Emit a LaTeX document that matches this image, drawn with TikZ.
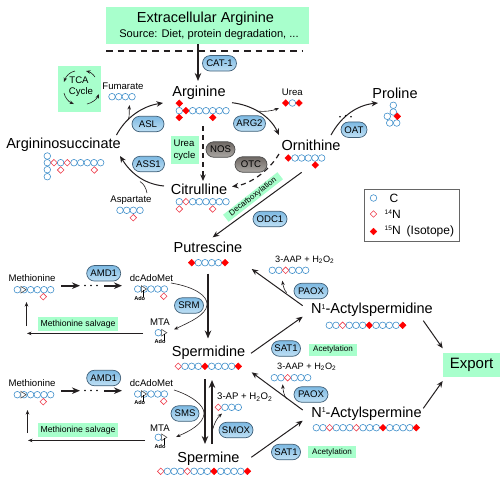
\documentclass[tikz,border=0pt]{standalone}
\usepackage{fontspec}
\setmainfont{Liberation Sans}
\usetikzlibrary{arrows.meta,shapes.misc}
\definecolor{ink}{HTML}{231F20}
\definecolor{mint}{HTML}{A8FFCC}
\definecolor{atomblue}{HTML}{3F8FCB}
\definecolor{atomred}{HTML}{EE3B4A}
\definecolor{pilltop}{HTML}{7DB9E2}
\definecolor{pillbot}{HTML}{BFE0F5}
\definecolor{pilledge}{HTML}{3F5F78}
\definecolor{graytop}{HTML}{6E6864}
\definecolor{graybot}{HTML}{ABA7A3}
\newcommand{\supa}[1]{\raisebox{4.6pt}{\fontsize{7}{8}\selectfont #1}}
\newcommand{\supb}[1]{\raisebox{4.4pt}{\fontsize{6.6}{7}\selectfont #1}}
\tikzset{
 every node/.style={inner sep=0pt,text=black},
 big/.style={font=\fontsize{14.5}{16}\selectfont},
 mid/.style={font=\fontsize{9.6}{11}\selectfont},
 small/.style={font=\fontsize{8.1}{10}\selectfont},
 salvage/.style={font=\fontsize{8.7}{10}\selectfont},
 aap/.style={font=\fontsize{9.2}{11}\selectfont},
 tiny/.style={font=\bfseries\fontsize{5.6}{6}\selectfont},
 legendtext/.style={font=\fontsize{12}{13}\selectfont},
 greenbox/.style={fill=mint,draw=none,align=center},
 pill/.style={rounded rectangle,draw=pilledge,line width=.7pt,top color=pilltop,bottom color=pillbot,font=\fontsize{9.6}{11}\selectfont,minimum height=15.5pt},
 graypill/.style={rounded rectangle,draw=black!70,line width=.7pt,top color=graytop,bottom color=graybot,font=\fontsize{9.6}{11}\selectfont,minimum height=15.5pt},
 flow/.style={draw=ink,line width=1pt,-{Stealth[length=6.5pt,width=5.5pt]}},
 thick flow/.style={draw=ink,line width=1.6pt,-{Stealth[length=8pt,width=6.5pt]}},
 thin flow/.style={draw=ink,line width=.6pt,-{Stealth[length=4.5pt,width=3.5pt]}},
 dash flow/.style={draw=ink,line width=1.2pt,dash pattern=on 5pt off 4pt,-{Stealth[length=6.5pt,width=5.5pt]}},
 catom/.style={draw=atomblue,line width=.6pt,fill=white},
 natom/.style={draw=atomred,line width=.6pt,fill=white},
 matom/.style={draw=red,line width=.4pt,fill=red},
}
\newcommand{\atomc}[2]{\draw[catom] (#1,#2) circle (3.3pt);}
\newcommand{\atomn}[2]{\draw[natom,shift={(#1,#2)}] (-3.3,0)--(0,-3.3)--(3.3,0)--(0,3.3)--cycle;}
\newcommand{\atomm}[2]{\draw[matom,shift={(#1,#2)}] (-3.4,0)--(0,-3.4)--(3.4,0)--(0,3.4)--cycle;}
\newcommand{\atomt}[2]{\draw[draw=black!70,line width=.6pt,fill=white,shift={(#1,#2)}] (-2.4,-3.3)--(2.8,0)--(-2.4,3.3)--cycle;}
\newcommand{\atomline}[3]{\foreach \t [count=\i from 0] in {#3} {\csname atom\t\endcsname{#1+\i*6.67}{#2}}}
\newcommand{\adolink}[2]{\draw[line width=.6pt] (#1,#2+1)--(#1,#2+8);}
\begin{document}
\begin{tikzpicture}[x=1pt,y=-1pt]
\useasboundingbox (0,0) rectangle (503,480);
% green boxes
\node[greenbox,minimum width=203pt,minimum height=37pt] (extra) at (207.5,25.5) {};
\node[big] (extraA) at (205.5,19) {Extracellular Arginine};
\node[font=\fontsize{11.1}{13}\selectfont] (extraB) at (209,34.5) {Source: Diet, protein degradation, ...};
\node[greenbox,minimum width=43pt,minimum height=46pt] (tcabox) at (79.5,89) {};
\node[mid] (tca) at (79,80.5) {TCA};
\node[mid] (cyc) at (81,92.5) {Cycle};
\node[greenbox,minimum width=28pt,minimum height=28pt] (ureabox) at (185,150) {};
\node[mid] (ureacyc) at (184,143.5) {Urea};
\node[mid] (ureacyc2) at (184.5,156) {cycle};
\node[greenbox,minimum width=80pt,minimum height=13.5pt,salvage] (salv1) at (78,324) {Methionine salvage};
\node[greenbox,minimum width=80pt,minimum height=14pt,salvage] (salv2) at (78,430) {Methionine salvage};
\node[greenbox,minimum width=48pt,minimum height=12pt,small] (acet1) at (333,349.7) {Acetylation};
\node[greenbox,minimum width=48pt,minimum height=12pt,small] (acet2) at (332,452.2) {Acetylation};
\node[greenbox,minimum width=57pt,minimum height=23.7pt,font=\fontsize{15}{17}\selectfont] (export) at (471.5,364.8) {Export};
\node[greenbox,rotate=38,minimum width=69pt,minimum height=9pt,font=\fontsize{8}{9}\selectfont] (decarb) at (253,197) {Decarboxylation};
% metabolites
\node[big] (arg) at (199,93) {Arginine};
\node[big] (asuc) at (63.5,145) {Argininosuccinate};
\node[big] (cit) at (199,189) {Citrulline};
\node[big] (orn) at (311,145) {Ornithine};
\node[big] (pro) at (395,93) {Proline};
\node[big] (put) at (208,247) {Putrescine};
\node[big] (spd) at (208.5,352.5) {Spermidine};
\node[big] (spm) at (208.5,458.5) {Spermine};
\node[big] (nspd) at (372,310) {N\supa{1}-Actylspermidine};
\node[big] (nspm) at (366.5,413.5) {N\supa{1}-Actylspermine};
\node[mid] (fum) at (123,86) {Fumarate};
\node[mid] (asp) at (131,200) {Aspartate};
\node[mid] (urea) at (292.3,92.7) {Urea};
\node[mid] (met1) at (32,278) {Methionine};
\node[mid] (dc1) at (151.5,278) {dcAdoMet};
\node[mid] (mta1) at (160,322.5) {MTA};
\node[mid] (met2) at (32,383) {Methionine};
\node[mid] (dc2) at (151.5,383) {dcAdoMet};
\node[mid] (mta2) at (160,428) {MTA};
\node[tiny] (ado1) at (139.7,298) {Ado};
\node[tiny] (ado2) at (160,341) {Ado};
\node[tiny] (ado3) at (139.7,402) {Ado};
\node[tiny] (ado4) at (160,446) {Ado};
\node[mid,anchor=west] (ap) at (217,397) {3-AP + H\textsubscript{2}O\textsubscript{2}};
\node[aap,anchor=west] (aap1) at (275,260) {3-AAP + H\textsubscript{2}O\textsubscript{2}};
\node[aap,anchor=west] (aap2) at (277,366.7) {3-AAP + H\textsubscript{2}O\textsubscript{2}};
% coordinates for connectors
\coordinate (cutA) at (106,51); \coordinate (cutB) at (302,51);
\coordinate (e1) at (198,44); \coordinate (e2) at (198,81);
\coordinate (a1) at (116.5,135); \coordinate (a2) at (163,103);
\coordinate (f1) at (128,120); \coordinate (f2) at (129.5,105);
\coordinate (b1) at (164,186); \coordinate (b2) at (120,156);
\coordinate (as1) at (147,193); \coordinate (as2) at (140,181.5);
\coordinate (c1) at (232,102.7); \coordinate (c2) at (279,135);
\coordinate (u1) at (257,111); \coordinate (u2) at (279,108);
\coordinate (d1) at (331,135); \coordinate (d2) at (378,103);
\coordinate (g1) at (203,126); \coordinate (g2) at (203,181);
\coordinate (h1) at (279,154); \coordinate (h2) at (232,186.5);
\coordinate (i1) at (301.7,172.3); \coordinate (i2) at (212.7,237.3);
\coordinate (j1) at (208,273.5); \coordinate (j2) at (208,338.5);
\coordinate (k1) at (171,283); \coordinate (k2) at (174,329.5);
\coordinate (l1) at (174,390); \coordinate (l2) at (176,437);
\coordinate (m1) at (61,285.7); \coordinate (m2) at (80,285.7);
\coordinate (m3) at (104,285.7); \coordinate (m4) at (122,285.7);
\coordinate (n1) at (61,390.7); \coordinate (n2) at (80,390.7);
\coordinate (n3) at (104,390.7); \coordinate (n4) at (122,390.7);
\coordinate (o1) at (143,333.4); \coordinate (o2) at (27,333.4);
\coordinate (o3) at (26.5,326); \coordinate (o4) at (26.5,302);
\coordinate (p1) at (145,440.4); \coordinate (p2) at (28,440.4);
\coordinate (p3) at (27.5,433); \coordinate (p4) at (27.5,410);
\coordinate (q1) at (205,379); \coordinate (q2) at (205,444);
\coordinate (r1) at (212,444); \coordinate (r2) at (212,380);
\coordinate (s1) at (212.5,430); \coordinate (s2) at (222,413.5);
\coordinate (t1) at (251,353.3); \coordinate (t2) at (302.7,316.7);
\coordinate (v1) at (302.7,305.7); \coordinate (v2) at (251.7,269);
\coordinate (w1) at (286.7,292.7); \coordinate (w2) at (282.3,280.7);
\coordinate (x1) at (251.3,457.3); \coordinate (x2) at (302.7,420.7);
\coordinate (y1) at (302.7,410); \coordinate (y2) at (251.7,372.3);
\coordinate (z1) at (286.7,399); \coordinate (z2) at (282.7,384.3);
\coordinate (ex1) at (423.3,320.7); \coordinate (ex2) at (442.7,348.3);
\coordinate (ex3) at (423.3,408.3); \coordinate (ex4) at (442.7,381);
% connectors
\draw[ink,line width=1.2pt,dash pattern=on 6.5pt off 5pt] (cutA)--(cutB);
\draw[thick flow] (e1)--(e2);
\draw[flow] (a1) .. controls (126,117) and (143,106) .. (a2);
\draw[thin flow] (f1) .. controls (130,116) and (129,111) .. (f2);
\draw[flow] (b1) .. controls (143,184) and (130,172) .. (b2);
\draw[ink,line width=.6pt] (as1) .. controls (146,188) and (144,184) .. (as2);
\draw[flow] (c1) .. controls (252,105) and (270,116) .. (c2);
\draw[thin flow] (u1) .. controls (264,112) and (272,111) .. (u2);
\draw[flow] (d1) .. controls (342,115) and (358,105) .. (d2);
\draw[dash flow] (g1)--(g2);
\draw[dash flow] (h1) .. controls (268,172) and (250,184) .. (h2);
\draw[flow] (i1)--(i2);
\draw[thick flow] (j1)--(j2);
\draw[thin flow] (k1) .. controls (195,287) and (208,296) .. (207,305) .. controls (206,315) and (190,322) .. (k2);
\draw[thin flow] (l1) .. controls (190,395) and (205,405) .. (204,414) .. controls (203,424) and (190,431) .. (l2);
\draw[thick flow] (m1)--(m2);
\draw[thick flow] (m3)--(m4);
\draw[thick flow] (n1)--(n2);
\draw[thick flow] (n3)--(n4);
\draw[thin flow] (o1)--(o2);
\draw[thin flow] (o3)--(o4);
\draw[thin flow] (p1)--(p2);
\draw[thin flow] (p3)--(p4);
\draw[thick flow] (q1)--(q2);
\draw[thick flow] (r1)--(r2);
\draw[thin flow] (s1) .. controls (214,424) and (217,418) .. (s2);
\draw[flow] (t1)--(t2);
\draw[flow] (v1)--(v2);
\draw[thin flow] (w1) .. controls (284,290) and (283,285) .. (w2);
\draw[flow] (x1)--(x2);
\draw[flow] (y1)--(y2);
\draw[thin flow] (z1) .. controls (284,396) and (283,390) .. (z2);
\draw[flow] (ex1)--(ex2);
\draw[flow] (ex3)--(ex4);
% TCA arcs
\coordinate (ta1) at (75,71); \coordinate (ta2) at (64,82);
\coordinate (tb1) at (64,93); \coordinate (tb2) at (74,104);
\coordinate (tc1) at (87,104); \coordinate (tc2) at (98.7,94);
\coordinate (td1) at (95,77); \coordinate (td2) at (86,71);
\draw[thin flow] (ta1) .. controls (70,72) and (66,76) .. (ta2);
\draw[thin flow] (tb1) .. controls (65,98) and (69,102) .. (tb2);
\draw[thin flow] (tc1) .. controls (92,103) and (97,99) .. (tc2);
\draw[thin flow] (td1) .. controls (93,74) and (90,72) .. (td2);
% dots
\foreach \p in {(340,116.7),(345.7,115.8),(351,116.7),(85,285.5),(91,285.5),(97,285.5),(85,390.5),(91,390.5),(97,390.5)}
  \fill[black] \p circle (.9pt);
% pills
\node[pill,minimum width=34pt] (cat) at (219.5,63.3) {CAT-1};
\node[pill,minimum width=32pt] (asl) at (148,124) {ASL};
\node[pill,minimum width=32pt] (ass) at (148.5,164) {ASS1};
\node[pill,minimum width=32pt] (arg2) at (249.5,123.5) {ARG2};
\node[pill,minimum width=26pt] (oat) at (354,129.7) {OAT};
\node[pill,minimum width=34pt] (odc) at (270,219) {ODC1};
\node[graypill,minimum width=29pt] (nos) at (220.5,149.5) {NOS};
\node[graypill,minimum width=32pt] (otc) at (251,164.5) {OTC};
\node[pill,minimum width=34pt] (amd1) at (103.7,273.3) {AMD1};
\node[pill,minimum width=34pt] (amd2) at (103.7,378) {AMD1};
\node[pill,minimum width=29pt] (srm) at (189,305.5) {SRM};
\node[pill,minimum width=28pt] (sms) at (185,413.5) {SMS};
\node[pill,minimum width=34pt] (smox) at (236,430) {SMOX};
\node[pill,minimum width=34pt] (paox1) at (311,291) {PAOX};
\node[pill,minimum width=34pt] (paox2) at (311,394.5) {PAOX};
\node[pill,minimum width=29pt] (sat1) at (286,348.5) {SAT1};
\node[pill,minimum width=29pt] (sat2) at (286,452) {SAT1};
% atoms
\atomline{112}{96.7}{c,c,c,c}
\atomline{179.3}{110.7}{c,m,c,c,c,c,c,c}
\atomm{179.3}{103.3}\atomm{179.3}{117.5}\atomm{212.7}{117.5}
\foreach \v in {156,169.7,176.7}{\atomc{47.3}{\v}}
\atomline{47.3}{162.7}{c,n,c,n,c,c,c,c,c}
\atomn{60.7}{170}\atomn{94.3}{170}
\atomline{179.3}{201.7}{c,n,c,c,c,c,c,c}
\atomn{179.3}{209}\atomn{212.7}{209}
\atomline{120}{210.3}{c,c,c,c}\atomn{133.3}{217.7}
\atomline{285.7}{103}{m,c,m}
\atomc{393.3}{105.3}\atomc{393.3}{112}\atomc{387.3}{116.3}\atomc{389.7}{123}\atomc{396.7}{123}\atomm{397.3}{116.3}
\atomline{288.3}{158}{m,c,c,c,c,c}\atomm{315.3}{165}
\atomline{191.7}{262.7}{m,c,c,c,c,m}
\atomline{178.3}{366.3}{n,c,c,c,m,c,c,c,c,m}
\atomline{160.7}{471.3}{n,c,c,c,n,c,c,c,m,c,c,c,c,m}
\atomline{17.3}{289.7}{c,c,c,c,c,c}
\atomt{23.3}{289.7}\atomn{43.3}{296.7}
\atomline{17.3}{394.7}{c,c,c,c,c,c}
\atomt{23.3}{394.7}\atomn{43.3}{401.7}
\atomline{137.7}{289}{c,c,c,c,c}\atomt{143.7}{289}\atomn{163.7}{296.3}\adolink{143.7}{289}
\atomline{137.7}{394}{c,c,c,c,c}\atomt{143.7}{394}\atomn{163.7}{401.3}\adolink{143.7}{394}
\atomc{158.3}{332.7}\atomt{164}{332.7}\adolink{164}{332.7}
\atomc{158.3}{437.3}\atomt{164}{437.3}\adolink{164}{437.3}
\atomline{218.3}{407.3}{n,c,c,c}
\atomline{272.3}{270.3}{c,c,n,c,c,c}
\atomline{274.3}{377.7}{c,c,n,c,c,c}
\atomline{329.3}{325.3}{c,c,n,c,c,c,m,c,c,c,c,m}
\atomline{316.3}{427.7}{c,c,n,c,c,c,n,c,c,c,m,c,c,c,c,m}
% legend
\node[draw=black!60,line width=.7pt,minimum width=94.5pt,minimum height=52pt] (legend) at (412,215) {};
\atomc{373.5}{198}\atomn{373.5}{214}\atomm{373.5}{231.5}
\node[legendtext] (lc) at (394,198) {C};
\node[legendtext,anchor=west] (ln) at (384.5,214) {\supb{14}N};
\node[legendtext,anchor=west] (lm) at (384.5,231.5) {\supb{15}N\enspace(Isotope)};
\end{tikzpicture}
\end{document}
